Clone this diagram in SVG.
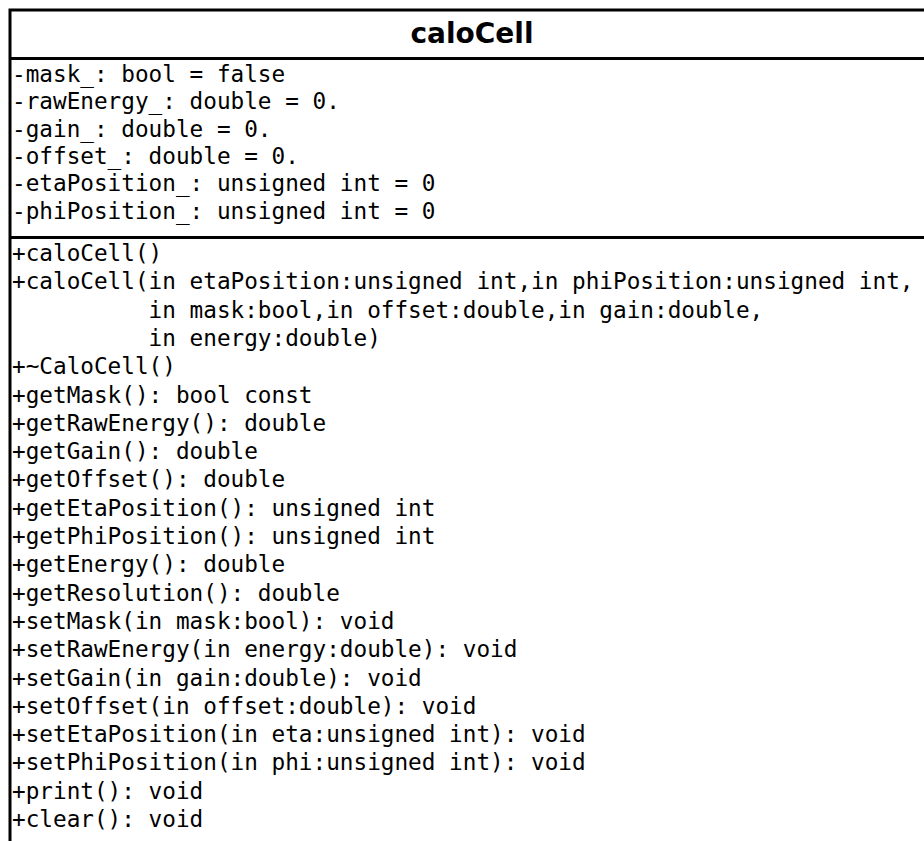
<svg xmlns="http://www.w3.org/2000/svg" width="924" height="841" viewBox="0 0 924 841">
<style>
.box{fill:#fff;stroke:#000;stroke-width:3}
.sep{stroke:#000;stroke-width:3}
.t{font-family:"DejaVu Sans Mono","Liberation Mono",monospace;font-size:22.7px;fill:#000;white-space:pre}
.title{font-family:"DejaVu Sans","Liberation Sans",sans-serif;font-weight:bold;font-size:28px;fill:#000;text-anchor:middle}
</style>
<rect width="924" height="841" fill="#fff"/>
<g id="caloCell">
<rect class="box" x="10" y="10" width="924" height="860"/>
<line class="sep" x1="10" y1="58.5" x2="934" y2="58.5"/>
<line class="sep" x1="10" y1="237.5" x2="934" y2="237.5"/>
<text class="title" x="472" y="43">caloCell</text>
<text class="t" x="12" y="82">-mask_: bool = false</text>
<text class="t" x="12" y="109.3">-rawEnergy_: double = 0.</text>
<text class="t" x="12" y="136.6">-gain_: double = 0.</text>
<text class="t" x="12" y="163.9">-offset_: double = 0.</text>
<text class="t" x="12" y="191.2">-etaPosition_: unsigned int = 0</text>
<text class="t" x="12" y="218.5">-phiPosition_: unsigned int = 0</text>
<text class="t" x="12" y="261">+caloCell()</text>
<text class="t" x="12" y="289.3">+caloCell(in etaPosition:unsigned int,in phiPosition:unsigned int,</text>
<text class="t" x="12" y="317.6">          in mask:bool,in offset:double,in gain:double,</text>
<text class="t" x="12" y="345.9">          in energy:double)</text>
<text class="t" x="12" y="374.2">+~CaloCell()</text>
<text class="t" x="12" y="402.5">+getMask(): bool const</text>
<text class="t" x="12" y="430.8">+getRawEnergy(): double</text>
<text class="t" x="12" y="459.1">+getGain(): double</text>
<text class="t" x="12" y="487.4">+getOffset(): double</text>
<text class="t" x="12" y="515.7">+getEtaPosition(): unsigned int</text>
<text class="t" x="12" y="544">+getPhiPosition(): unsigned int</text>
<text class="t" x="12" y="572.3">+getEnergy(): double</text>
<text class="t" x="12" y="600.6">+getResolution(): double</text>
<text class="t" x="12" y="628.9">+setMask(in mask:bool): void</text>
<text class="t" x="12" y="657.2">+setRawEnergy(in energy:double): void</text>
<text class="t" x="12" y="685.5">+setGain(in gain:double): void</text>
<text class="t" x="12" y="713.8">+setOffset(in offset:double): void</text>
<text class="t" x="12" y="742.1">+setEtaPosition(in eta:unsigned int): void</text>
<text class="t" x="12" y="770.4">+setPhiPosition(in phi:unsigned int): void</text>
<text class="t" x="12" y="798.7">+print(): void</text>
<text class="t" x="12" y="827">+clear(): void</text>
</g>
<g id="connectors"/>
</svg>
